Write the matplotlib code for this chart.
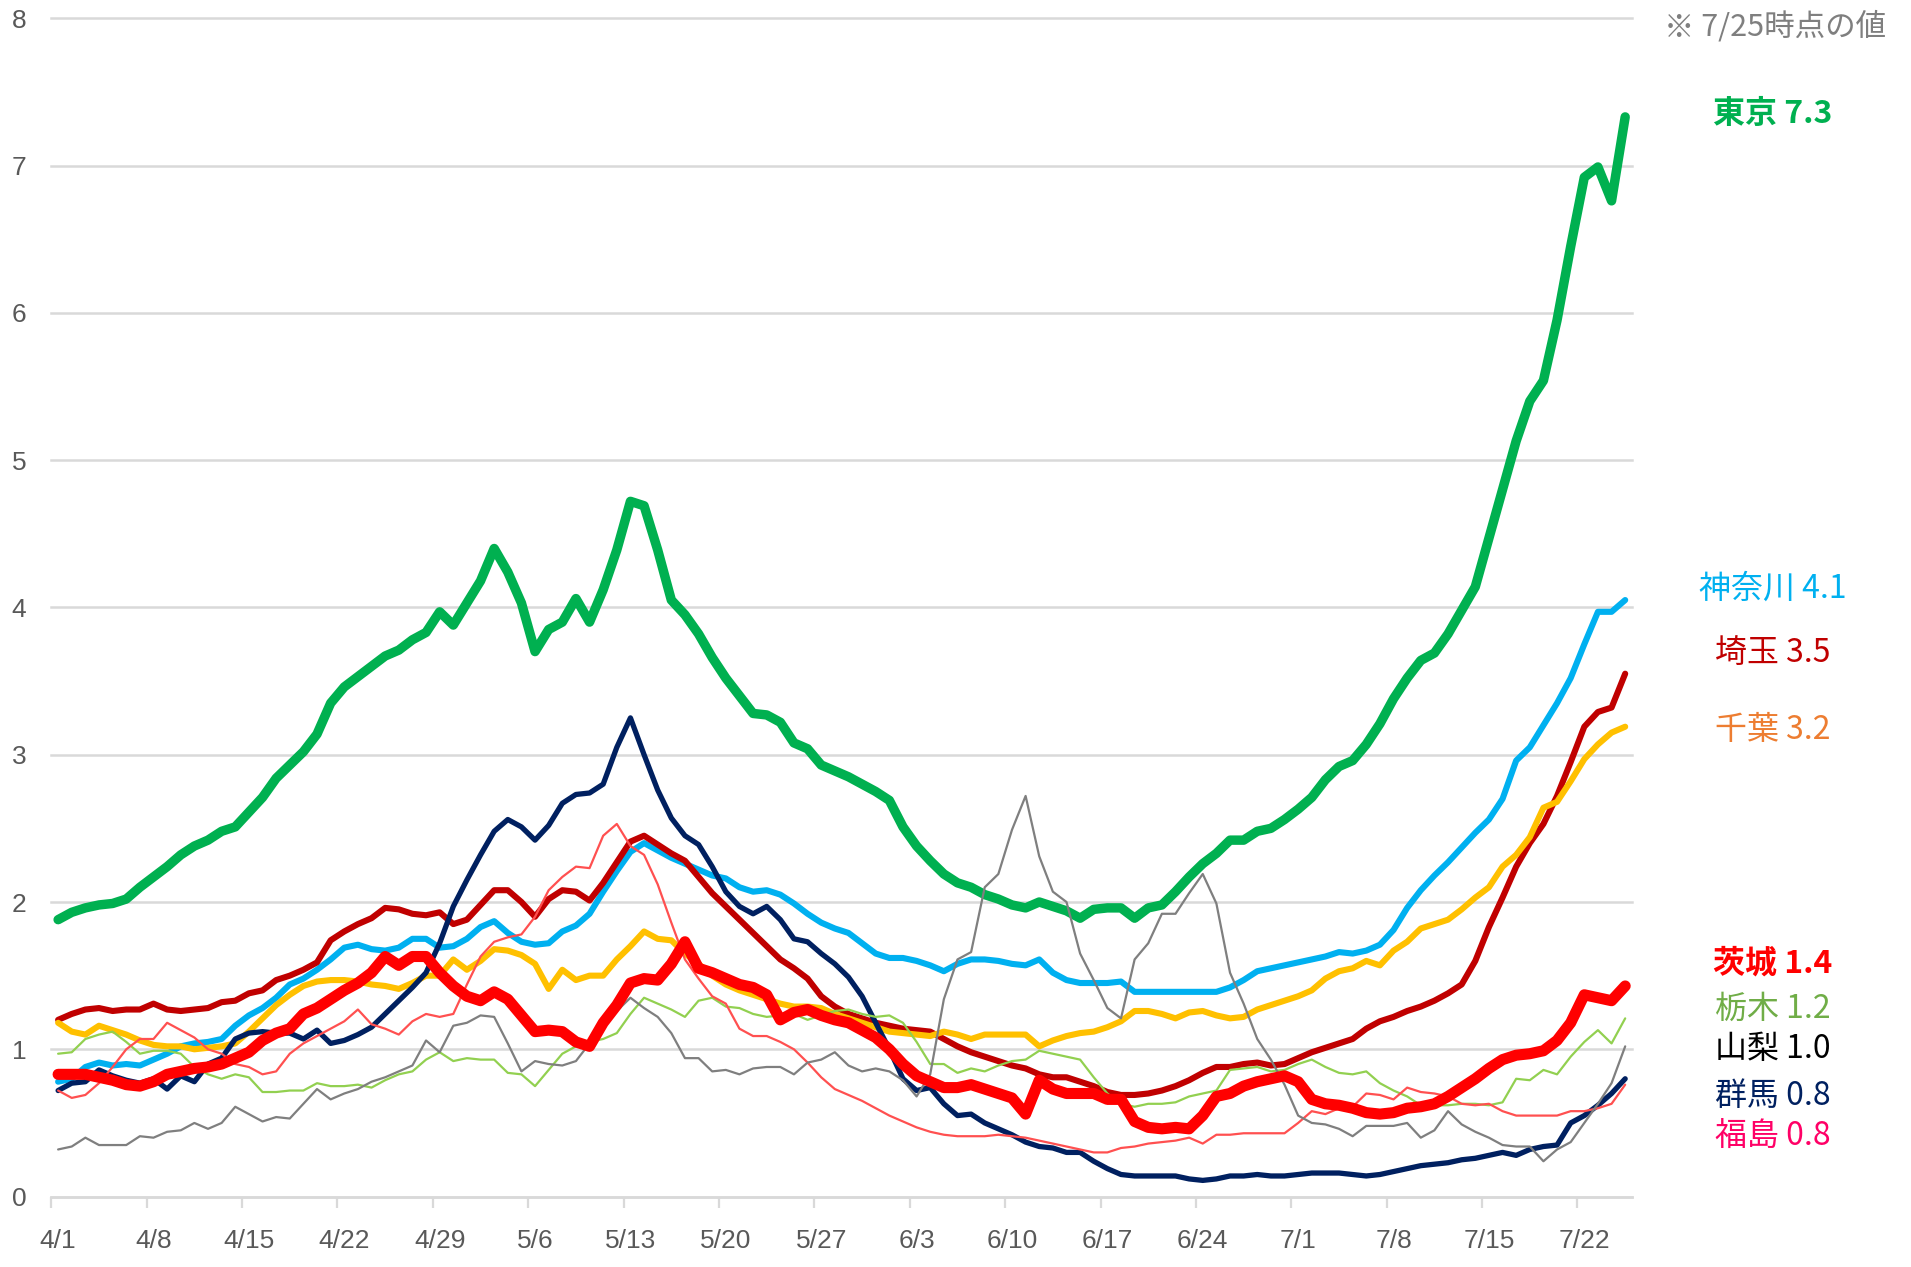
import numpy as np
import matplotlib
matplotlib.use("Agg")
import matplotlib.pyplot as plt

# 7-day average values per prefecture, one value per day from 4/1 to 7/25
tokyo = [1.88, 1.93, 1.96, 1.98, 1.99, 2.02, 2.10, 2.17, 2.24, 2.32,
         2.38, 2.42, 2.48, 2.51, 2.61, 2.71, 2.84, 2.93, 3.02, 3.14,
         3.35, 3.46, 3.53, 3.60, 3.67, 3.71, 3.78, 3.83, 3.97, 3.88,
         4.03, 4.18, 4.40, 4.24, 4.03, 3.70, 3.85, 3.90, 4.06, 3.90,
         4.12, 4.39, 4.72, 4.69, 4.39, 4.05, 3.95, 3.82, 3.66, 3.52,
         3.40, 3.28, 3.27, 3.22, 3.08, 3.04, 2.93, 2.89, 2.85, 2.80,
         2.75, 2.69, 2.51, 2.38, 2.28, 2.19, 2.13, 2.10, 2.05, 2.02,
         1.98, 1.96, 2.00, 1.97, 1.94, 1.89, 1.95, 1.96, 1.96, 1.89,
         1.96, 1.98, 2.07, 2.17, 2.26, 2.33, 2.42, 2.42, 2.48, 2.50,
         2.56, 2.63, 2.71, 2.83, 2.92, 2.96, 3.07, 3.21, 3.38, 3.52,
         3.64, 3.69, 3.82, 3.98, 4.14, 4.47, 4.80, 5.13, 5.40, 5.54,
         5.95, 6.45, 6.92, 6.99, 6.76, 7.33]

kanagawa = [0.78, 0.80, 0.88, 0.91, 0.89, 0.90, 0.89, 0.93, 0.97, 1.02,
            1.04, 1.05, 1.07, 1.16, 1.23, 1.28, 1.35, 1.44, 1.48, 1.54,
            1.61, 1.69, 1.71, 1.68, 1.67, 1.69, 1.75, 1.75, 1.69, 1.70,
            1.75, 1.83, 1.87, 1.79, 1.73, 1.71, 1.72, 1.80, 1.84, 1.92,
            2.07, 2.21, 2.34, 2.40, 2.35, 2.30, 2.26, 2.22, 2.18, 2.16,
            2.10, 2.07, 2.08, 2.05, 1.99, 1.92, 1.86, 1.82, 1.79, 1.72,
            1.65, 1.62, 1.62, 1.60, 1.57, 1.53, 1.58, 1.61, 1.61, 1.60,
            1.58, 1.57, 1.61, 1.52, 1.47, 1.45, 1.45, 1.45, 1.46, 1.39,
            1.39, 1.39, 1.39, 1.39, 1.39, 1.39, 1.42, 1.47, 1.53, 1.55,
            1.57, 1.59, 1.61, 1.63, 1.66, 1.65, 1.67, 1.71, 1.81, 1.96,
            2.08, 2.18, 2.27, 2.37, 2.47, 2.56, 2.70, 2.96, 3.05, 3.20,
            3.35, 3.52, 3.75, 3.97, 3.97, 4.05]

saitama = [1.20, 1.24, 1.27, 1.28, 1.26, 1.27, 1.27, 1.31, 1.27, 1.26,
           1.27, 1.28, 1.32, 1.33, 1.38, 1.40, 1.47, 1.50, 1.54, 1.59,
           1.74, 1.80, 1.85, 1.89, 1.96, 1.95, 1.92, 1.91, 1.93, 1.85,
           1.88, 1.98, 2.08, 2.08, 2.00, 1.90, 2.02, 2.08, 2.07, 2.01,
           2.13, 2.27, 2.41, 2.45, 2.39, 2.33, 2.28, 2.17, 2.06, 1.97,
           1.88, 1.79, 1.70, 1.61, 1.55, 1.48, 1.36, 1.29, 1.24, 1.21,
           1.18, 1.16, 1.14, 1.13, 1.12, 1.07, 1.02, 0.98, 0.95, 0.92,
           0.89, 0.87, 0.83, 0.81, 0.81, 0.78, 0.75, 0.71, 0.69, 0.69,
           0.70, 0.72, 0.75, 0.79, 0.84, 0.88, 0.88, 0.90, 0.91, 0.89,
           0.90, 0.94, 0.98, 1.01, 1.04, 1.07, 1.14, 1.19, 1.22, 1.26,
           1.29, 1.33, 1.38, 1.44, 1.60, 1.83, 2.03, 2.24, 2.40, 2.53,
           2.72, 2.95, 3.19, 3.29, 3.32, 3.55]

chiba = [1.18, 1.12, 1.10, 1.16, 1.13, 1.10, 1.06, 1.03, 1.02, 1.02,
         1.00, 1.01, 1.02, 1.04, 1.12, 1.21, 1.30, 1.37, 1.43, 1.46,
         1.47, 1.47, 1.46, 1.44, 1.43, 1.41, 1.45, 1.50, 1.50, 1.61,
         1.54, 1.60, 1.68, 1.67, 1.64, 1.58, 1.41, 1.54, 1.47, 1.50,
         1.50, 1.61, 1.70, 1.80, 1.75, 1.74, 1.65, 1.58, 1.50, 1.44,
         1.40, 1.37, 1.34, 1.31, 1.29, 1.29, 1.28, 1.24, 1.21, 1.18,
         1.15, 1.12, 1.11, 1.10, 1.09, 1.12, 1.10, 1.07, 1.10, 1.10,
         1.10, 1.10, 1.02, 1.06, 1.09, 1.11, 1.12, 1.15, 1.19, 1.26,
         1.26, 1.24, 1.21, 1.25, 1.26, 1.23, 1.21, 1.22, 1.27, 1.30,
         1.33, 1.36, 1.40, 1.48, 1.53, 1.55, 1.60, 1.57, 1.67, 1.73,
         1.82, 1.85, 1.88, 1.95, 2.03, 2.10, 2.24, 2.32, 2.44, 2.64,
         2.68, 2.82, 2.97, 3.07, 3.15, 3.19]

ibaraki = [0.83, 0.83, 0.83, 0.81, 0.79, 0.76, 0.75, 0.78, 0.83, 0.85,
           0.87, 0.88, 0.90, 0.94, 0.98, 1.06, 1.11, 1.14, 1.24, 1.28,
           1.34, 1.40, 1.45, 1.52, 1.63, 1.57, 1.63, 1.63, 1.52, 1.43,
           1.36, 1.33, 1.39, 1.34, 1.23, 1.12, 1.13, 1.12, 1.05, 1.02,
           1.18, 1.30, 1.45, 1.48, 1.47, 1.58, 1.73, 1.55, 1.52, 1.48,
           1.44, 1.42, 1.37, 1.20, 1.25, 1.27, 1.23, 1.20, 1.18, 1.13,
           1.08, 1.00, 0.90, 0.82, 0.78, 0.74, 0.74, 0.76, 0.73, 0.70,
           0.67, 0.56, 0.79, 0.73, 0.70, 0.70, 0.70, 0.66, 0.66, 0.51,
           0.47, 0.46, 0.47, 0.46, 0.55, 0.68, 0.70, 0.75, 0.78, 0.80,
           0.82, 0.78, 0.66, 0.63, 0.62, 0.60, 0.57, 0.56, 0.57, 0.60,
           0.61, 0.63, 0.68, 0.74, 0.80, 0.87, 0.93, 0.96, 0.97, 0.99,
           1.06, 1.18, 1.37, 1.35, 1.33, 1.43]

tochigi = [0.97, 0.98, 1.07, 1.10, 1.12, 1.05, 0.97, 0.99, 0.99, 0.97,
           0.88, 0.83, 0.80, 0.83, 0.81, 0.71, 0.71, 0.72, 0.72, 0.77,
           0.75, 0.75, 0.76, 0.74, 0.79, 0.83, 0.85, 0.93, 0.98, 0.92,
           0.94, 0.93, 0.93, 0.84, 0.83, 0.75, 0.86, 0.97, 1.02, 1.05,
           1.07, 1.11, 1.24, 1.35, 1.31, 1.27, 1.22, 1.33, 1.35, 1.29,
           1.28, 1.24, 1.22, 1.23, 1.24, 1.20, 1.23, 1.26, 1.27, 1.24,
           1.22, 1.23, 1.18, 1.05, 0.90, 0.90, 0.84, 0.87, 0.85, 0.89,
           0.92, 0.93, 0.99, 0.97, 0.95, 0.93, 0.81, 0.70, 0.63, 0.61,
           0.63, 0.63, 0.64, 0.68, 0.70, 0.72, 0.86, 0.87, 0.88, 0.85,
           0.86, 0.90, 0.93, 0.88, 0.84, 0.83, 0.85, 0.77, 0.72, 0.68,
           0.62, 0.62, 0.62, 0.63, 0.63, 0.62, 0.64, 0.80, 0.79, 0.86,
           0.83, 0.95, 1.05, 1.13, 1.04, 1.21]

yamanashi = [0.32, 0.34, 0.40, 0.35, 0.35, 0.35, 0.41, 0.40, 0.44, 0.45,
             0.50, 0.46, 0.50, 0.61, 0.56, 0.51, 0.54, 0.53, 0.63, 0.73,
             0.66, 0.70, 0.73, 0.78, 0.81, 0.85, 0.89, 1.06, 0.98, 1.16,
             1.18, 1.23, 1.22, 1.04, 0.85, 0.92, 0.90, 0.89, 0.92, 1.04,
             1.17, 1.26, 1.35, 1.28, 1.22, 1.11, 0.94, 0.94, 0.85, 0.86,
             0.83, 0.87, 0.88, 0.88, 0.83, 0.91, 0.93, 0.98, 0.89, 0.85,
             0.87, 0.85, 0.79, 0.68, 0.83, 1.34, 1.61, 1.66, 2.10, 2.19,
             2.49, 2.72, 2.31, 2.07, 2.00, 1.65, 1.47, 1.28, 1.21, 1.61,
             1.72, 1.92, 1.92, 2.06, 2.19, 1.99, 1.52, 1.31, 1.07, 0.93,
             0.76, 0.55, 0.50, 0.49, 0.46, 0.41, 0.48, 0.48, 0.48, 0.50,
             0.40, 0.45, 0.58, 0.49, 0.44, 0.40, 0.35, 0.34, 0.34, 0.24,
             0.32, 0.37, 0.50, 0.63, 0.77, 1.02]

gunma = [0.72, 0.77, 0.78, 0.86, 0.82, 0.79, 0.77, 0.80, 0.73, 0.82,
         0.78, 0.90, 0.94, 1.07, 1.11, 1.12, 1.11, 1.11, 1.07, 1.13,
         1.04, 1.06, 1.10, 1.15, 1.24, 1.33, 1.42, 1.52, 1.72, 1.97,
         2.15, 2.32, 2.48, 2.56, 2.51, 2.42, 2.52, 2.67, 2.73, 2.74,
         2.80, 3.05, 3.25, 3.00, 2.76, 2.57, 2.45, 2.39, 2.24, 2.07,
         1.97, 1.92, 1.97, 1.88, 1.75, 1.73, 1.65, 1.58, 1.49, 1.36,
         1.18, 1.00, 0.80, 0.72, 0.74, 0.63, 0.55, 0.56, 0.50, 0.46,
         0.42, 0.37, 0.34, 0.33, 0.30, 0.30, 0.24, 0.19, 0.15, 0.14,
         0.14, 0.14, 0.14, 0.12, 0.11, 0.12, 0.14, 0.14, 0.15, 0.14,
         0.14, 0.15, 0.16, 0.16, 0.16, 0.15, 0.14, 0.15, 0.17, 0.19,
         0.21, 0.22, 0.23, 0.25, 0.26, 0.28, 0.30, 0.28, 0.32, 0.34,
         0.35, 0.50, 0.55, 0.62, 0.70, 0.80]

fukushima = [0.72, 0.67, 0.69, 0.77, 0.88, 1.00, 1.07, 1.07, 1.18, 1.13,
             1.08, 1.00, 0.97, 0.90, 0.88, 0.83, 0.85, 0.97, 1.04, 1.09,
             1.14, 1.19, 1.27, 1.17, 1.14, 1.10, 1.19, 1.24, 1.22, 1.24,
             1.44, 1.63, 1.73, 1.76, 1.78, 1.90, 2.08, 2.17, 2.24, 2.23,
             2.45, 2.53, 2.38, 2.32, 2.12, 1.86, 1.61, 1.48, 1.36, 1.31,
             1.14, 1.09, 1.09, 1.05, 1.00, 0.91, 0.81, 0.73, 0.69, 0.65,
             0.60, 0.55, 0.51, 0.47, 0.44, 0.42, 0.41, 0.41, 0.41, 0.42,
             0.41, 0.40, 0.38, 0.36, 0.34, 0.32, 0.30, 0.30, 0.33, 0.34,
             0.36, 0.37, 0.38, 0.40, 0.36, 0.42, 0.42, 0.43, 0.43, 0.43,
             0.43, 0.50, 0.58, 0.56, 0.60, 0.61, 0.70, 0.69, 0.66, 0.74,
             0.71, 0.70, 0.68, 0.63, 0.62, 0.63, 0.58, 0.55, 0.55, 0.55,
             0.55, 0.58, 0.58, 0.60, 0.63, 0.76]

tick_labels = ["4/1", "4/8", "4/15", "4/22", "4/29", "5/6", "5/13", "5/20",
               "5/27", "6/3", "6/10", "6/17", "6/24", "7/1", "7/8", "7/15", "7/22"]

label_names = ["東京", "神奈川", "埼玉", "千葉", "茨城", "栃木", "山梨", "群馬", "福島"]
label_values = ["7.3", "4.1", "3.5", "3.2", "1.4", "1.2", "1.0", "0.8", "0.8"]
note = "※ 7/25時点の値"

W, H = 1911, 1267
axis_font = ["Liberation Sans", "DejaVu Sans"]
jp = ["Noto Sans CJK JP", "DejaVu Sans"]

fig = plt.figure(figsize=(W / 100, H / 100), dpi=100)
ax = fig.add_axes([51.3 / W, 1 - 1196.6 / H, (1632 - 51.3) / W, (1196.6 - 18.2) / H])

n = len(tokyo)
x = np.arange(n) + 0.5

# drawing order: last one ends up on top
series = [
    (tokyo, "#00B050", 6.8),
    (kanagawa, "#00B0F0", 4.4),
    (saitama, "#C00000", 4.4),
    (chiba, "#FFC000", 4.4),
    (gunma, "#002060", 3.8),
    (tochigi, "#92D050", 1.6),
    (fukushima, "#FF5050", 1.6),
    (yamanashi, "#7F7F7F", 1.6),
    (ibaraki, "#FF0000", 8.0),
]
for i, (vals, col, lw) in enumerate(series):
    ax.plot(x, vals, color=col, lw=lw, solid_joinstyle="round",
            solid_capstyle="round", zorder=3 + i)

ax.set_xlim(0, 116)
ax.set_ylim(0, 8)

ax.set_yticks(range(9))
ax.yaxis.grid(True, color="#D9D9D9", lw=1.8)
for gl in ax.get_ygridlines():
    gl.set_clip_on(False)
ax.set_axisbelow(True)

major = np.arange(0, 7 * len(tick_labels), 7)
ax.set_xticks(major)
ax.set_xticklabels([])
ax.set_xticks(major + 0.5, minor=True)
ax.set_xticklabels(tick_labels, minor=True, family=axis_font, fontsize=19, color="#595959")
ax.tick_params(axis="x", which="major", length=8, width=1.6, color="#D9D9D9")
ax.tick_params(axis="x", which="minor", length=0, pad=23)
ax.tick_params(axis="y", length=0, pad=18, labelsize=19, labelcolor="#595959")
for lab in ax.get_yticklabels():
    lab.set_family(axis_font)

for s in ["left", "right", "top"]:
    ax.spines[s].set_visible(False)
ax.spines["bottom"].set_color("#D9D9D9")
ax.spines["bottom"].set_linewidth(1.8)

# labels on the right
label_y = [114, 589, 653, 730, 964, 1009, 1049, 1096, 1136]
label_colors = ["#00B050", "#00B0F0", "#C00000", "#ED7D31", "#FF0000",
                "#70AD47", "#000000", "#002060", "#FF0066"]
label_bold = [True, False, False, False, True, False, False, False, False]
for name, val, yy, col, b in zip(label_names, label_values, label_y, label_colors, label_bold):
    fig.text(1773 / W, 1 - yy / H, name + " " + val, ha="center", va="center",
             fontsize=23, color=col, family=jp,
             fontweight="bold" if b else "normal")

fig.text(1886 / W, 1 - 27 / H, note, ha="right", va="center",
         fontsize=22, color="#7F7F7F", family=jp)

fig.savefig("out.png", dpi=100, facecolor="white")
